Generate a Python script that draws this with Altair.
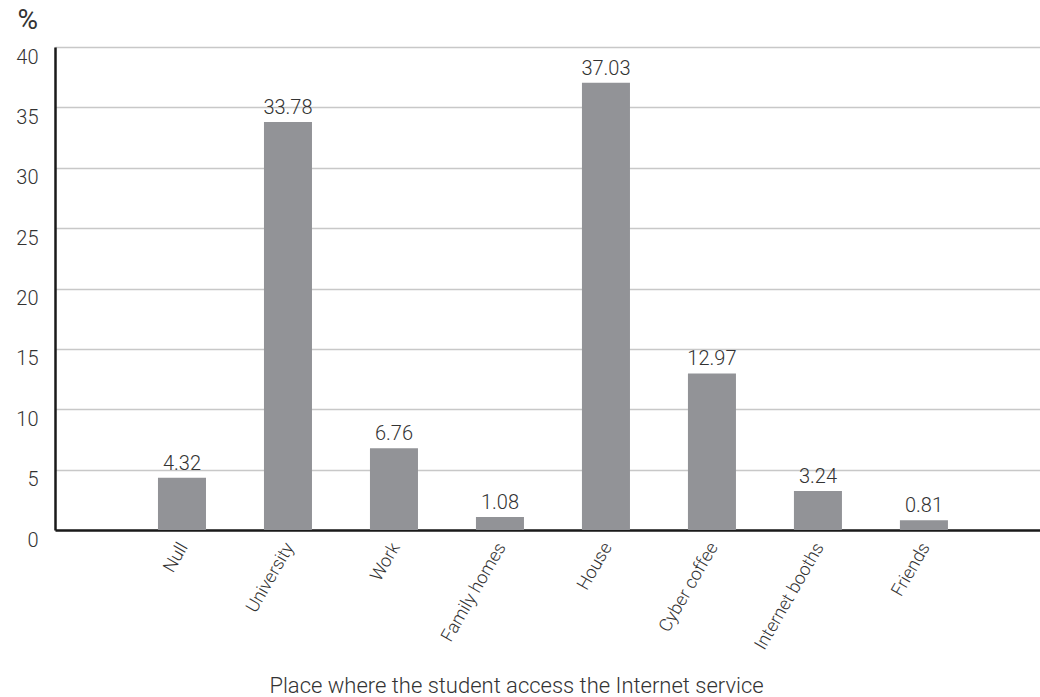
import altair as alt
import pandas as pd

# Share of students by place where they access the Internet (%)
places = ["Null", "University", "Work", "Family homes", "House",
          "Cyber coffee", "Internet booths", "Friends"]
shares = [4.32, 33.78, 6.76, 1.08, 37.03, 12.97, 3.24, 0.81]
y_ticks = [0, 5, 10, 15, 20, 25, 30, 35, 40]

df = pd.DataFrame({"place": places, "share": shares})
df["label"] = df["share"].map(lambda v: f"{v:.2f}")

FONT = "Roboto"
TEXT = "#333333"
LIGHT = 300

x_enc = alt.X(
    "place:N",
    sort=places,
    scale=alt.Scale(paddingInner=0.547, paddingOuter=0.92, align=0.528),
    axis=alt.Axis(
        title="Place where the student access the Internet service",
        titleFont=FONT, titleFontSize=22, titleFontWeight=LIGHT,
        titleColor=TEXT, titleX=461, titleY=162, titleAlign="center",
        titleBaseline="alphabetic",
        labelFont=FONT, labelFontSize=18, labelFontWeight=LIGHT,
        labelColor=TEXT,
        labelAngle=300, labelAlign="right", labelBaseline="middle",
        labelPadding=14, labelOffset=2,
        ticks=False, domainColor="#1a1a1a", domainWidth=2.5,
        grid=False,
    ),
)

y_enc = alt.Y(
    "share:Q",
    scale=alt.Scale(domain=[0, 40], nice=False),
    axis=alt.Axis(
        values=y_ticks, title="%",
        titleFont=FONT, titleFontSize=28, titleFontWeight="normal",
        titleColor=TEXT, titleAngle=0, titleAlign="left",
        titleBaseline="alphabetic", titleX=-38, titleY=-19,
        labelFont=FONT, labelFontSize=20, labelFontWeight=LIGHT,
        labelColor=TEXT,
        labelPadding=17, labelOffset=10,
        ticks=False, domainColor="#1a1a1a", domainWidth=2.5,
        grid=True, gridColor="#c8c8c8", gridWidth=1.5,
    ),
)

bars = alt.Chart(df).mark_bar(color="#929397").encode(x=x_enc, y=y_enc)

labels = alt.Chart(df).mark_text(
    font=FONT, fontSize=20, fontWeight=LIGHT, color=TEXT,
    baseline="alphabetic", dy=-8,
).encode(x=alt.X("place:N", sort=places), y="share:Q", text="label:N")

chart = (
    alt.layer(bars, labels)
    .properties(
        width=985, height=483,
        autosize=alt.AutoSizeParams(type="none"),
        padding={"left": 55, "top": 47, "right": 0, "bottom": 167},
    )
    .configure_view(stroke=None)
    .configure(background="white")
)

chart.save("out.html", embed_options={"renderer": "svg", "actions": False})
